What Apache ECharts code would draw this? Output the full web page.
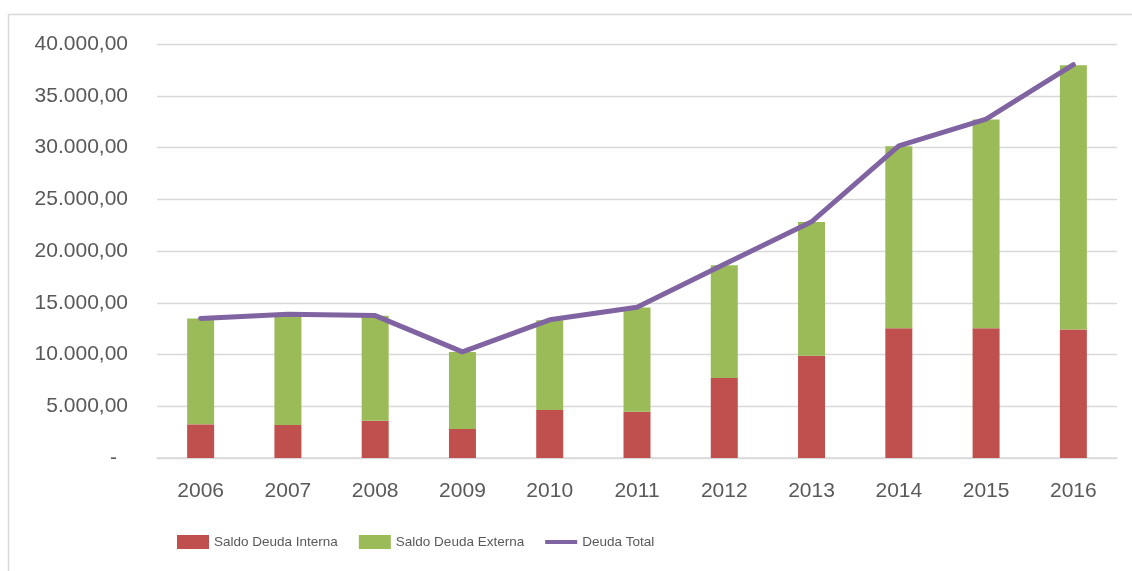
<!DOCTYPE html>
<html>
<head>
<meta charset="utf-8">
<script src="https://cdn.jsdelivr.net/npm/echarts@6/dist/echarts.min.js"></script>
<style>
html,body{margin:0;padding:0;background:#fff;}
#c{width:1132px;height:571px;}
</style>
</head>
<body>
<div id="c"></div>
<script>
const categories = ['2006','2007','2008','2009','2010','2011','2012','2013','2014','2015','2016'];
const saldoInterna = [3250, 3190, 3610, 2800, 4640, 4480, 7730, 9890, 12530, 12530, 12410];
const saldoExterna = [10220, 10700, 10140, 7440, 8660, 10050, 10890, 12910, 17590, 20170, 25530];
const deudaTotal = [13480, 13900, 13760, 10250, 13350, 14560, 18720, 22820, 30160, 32750, 38000];
const yMin = 0, yMax = 40000, yStep = 5000;

function fmt(v){
  if (v === 0) return '{z|-}';
  const s = Math.round(v).toString().replace(/\B(?=(\d{3})+(?!\d))/g, '.');
  return s + ',00';
}

const chart = echarts.init(document.getElementById('c'), null, {renderer:'canvas'});
const axisFont = {fontFamily:'Liberation Sans, Arial, sans-serif', fontSize:21, color:'#595959'};
chart.setOption({
  animation:false,
  backgroundColor:'#fff',
  graphic:[{type:'rect', shape:{x:8.5, y:14.5, width:1300, height:700}, style:{fill:'none', stroke:'#D9D9D9', lineWidth:1.5}, silent:true}],
  grid:{left:157, right:15, top:44, bottom:113},
  legend:{
    left:177, top:535, padding:0, itemWidth:32, itemHeight:14, itemGap:21,
    textStyle:{fontFamily:'Liberation Sans, Arial, sans-serif', fontSize:13.5, color:'#595959'},
    data:[
      {name:'Saldo Deuda Interna', icon:'rect'},
      {name:'Saldo Deuda Externa', icon:'rect'},
      {name:'Deuda Total', icon:'path://M0,0 L34,0 L34,4.5 L0,4.5 Z'}
    ]
  },
  xAxis:{
    type:'category', data:categories,
    axisLine:{lineStyle:{color:'#D9D9D9', width:1.5}},
    axisTick:{show:false},
    axisLabel:Object.assign({margin:23}, axisFont)
  },
  yAxis:{
    type:'value', min:yMin, max:yMax, interval:yStep,
    axisLine:{show:false}, axisTick:{show:false},
    splitLine:{lineStyle:{color:'#D9D9D9', width:1.3}},
    axisLabel:Object.assign({margin:29, formatter:fmt, rich:{z:{fontFamily:'Liberation Sans, Arial, sans-serif', fontSize:21, color:'#595959', padding:[0,11,0,0]}}}, axisFont)
  },
  series:[
    {name:'Saldo Deuda Interna', type:'bar', stack:'d', data:saldoInterna, barWidth:27, itemStyle:{color:'#C0504D'}},
    {name:'Saldo Deuda Externa', type:'bar', stack:'d', data:saldoExterna, barWidth:27, itemStyle:{color:'#9BBB59'}},
    {name:'Deuda Total', type:'line', data:deudaTotal, symbol:'none', showSymbol:false, z:10,
     lineStyle:{color:'#8064A2', width:5, cap:'round', join:'round'}, itemStyle:{color:'#8064A2'}}
  ]
});
</script>
</body>
</html>
